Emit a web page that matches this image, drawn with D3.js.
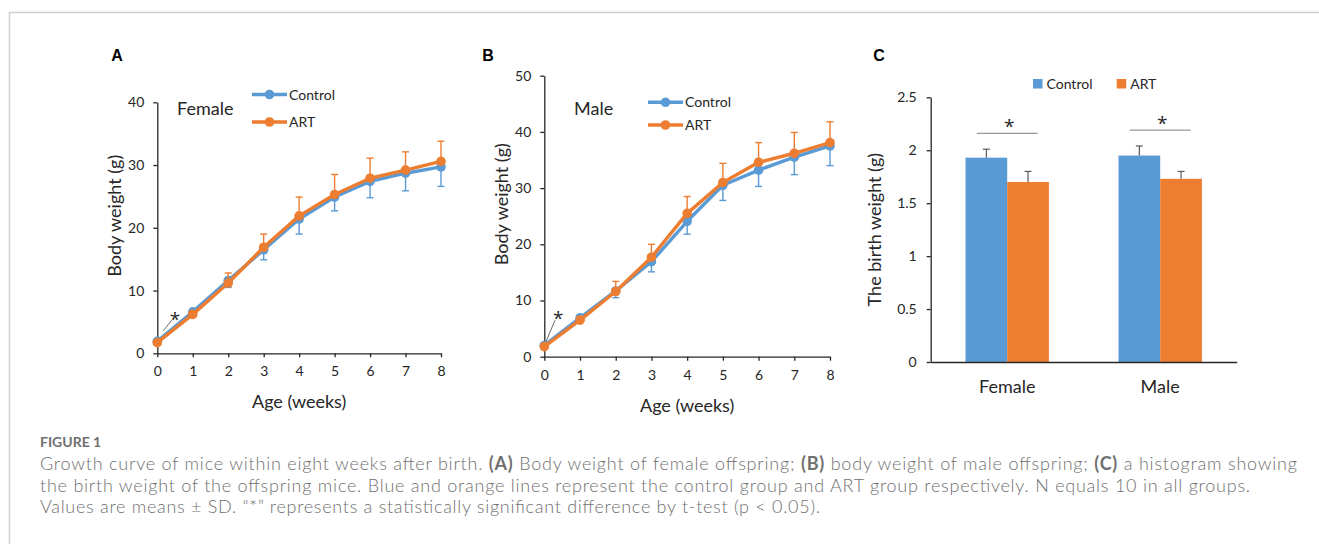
<!DOCTYPE html>
<html>
<head>
<meta charset="utf-8">
<script src="https://cdn.jsdelivr.net/npm/d3@7"></script>
<style>
  body { margin: 0; background: #fff; }
  text { font-family: Lato, "Open Sans", sans-serif; }
</style>
</head>
<body>
<div id="figure"></div>
<script>
// data
var weeks = [0, 1, 2, 3, 4, 5, 6, 7, 8];
var femaleControl   = [1.9, 6.6, 11.6, 16.5, 21.4, 24.9, 27.4, 28.7, 29.7];
var femaleControlSD = [0.2, 0.6, 1.1, 1.6, 2.4, 2.2, 2.6, 2.8, 3.1];
var femaleART       = [1.7, 6.2, 11.2, 16.9, 21.9, 25.3, 27.9, 29.2, 30.6];
var femaleARTSD     = [0.2, 0.6, 1.6, 2.1, 3.0, 3.2, 3.2, 2.9, 3.2];
var maleControl     = [2.0, 6.9, 11.7, 16.9, 24.1, 30.5, 33.2, 35.5, 37.5];
var maleControlSD   = [0.2, 0.5, 1.2, 1.8, 2.3, 2.7, 2.9, 3.1, 3.5];
var maleART         = [1.8, 6.5, 11.6, 17.7, 25.5, 31.0, 34.6, 36.2, 38.1];
var maleARTSD       = [0.2, 0.6, 1.8, 2.3, 3.0, 3.4, 3.5, 3.7, 3.7];

var sexes = ["Female", "Male"];
var groups = ["Control", "ART"];
var birthControl   = [1.93, 1.95];
var birthControlSD = [0.08, 0.09];
var birthART       = [1.70, 1.73];
var birthARTSD     = [0.10, 0.07];

var femaleTicks = [0, 10, 20, 30, 40];
var maleTicks = [0, 10, 20, 30, 40, 50];
var birthTicks = [0, 0.5, 1, 1.5, 2, 2.5];

var captionLines = [
  [["Growth curve of mice within eight weeks after birth. ", false], ["(A)", true], [" Body weight of female offspring; ", false], ["(B)", true], [" body weight of male offspring; ", false], ["(C)", true], [" a histogram showing", false]],
  [["the birth weight of the offspring mice. Blue and orange lines represent the control group and ART group respectively. N equals 10 in all groups.", false]],
  [["Values are means \u00B1 SD. \u201C*\u201D represents a statistically significant difference by t-test (p < 0.05).", false]]
];

// colours
var blue = "#5b9bd5", orange = "#ed7d31", axisColor = "#262626";

var width = 1319, height = 544;

var svg = d3.select("#figure").append("svg")
    .attr("width", width)
    .attr("height", height);

// page frame (top and left rules)
svg.append("line").attr("x1", 9).attr("x2", width).attr("y1", 12.5).attr("y2", 12.5)
    .attr("stroke", "#cfcfcf").attr("stroke-width", 1.5);
svg.append("line").attr("x1", 9.5).attr("x2", 9.5).attr("y1", 12).attr("y2", height)
    .attr("stroke", "#cfcfcf").attr("stroke-width", 1.5);

// panel letters
[["A", 117], ["B", 488], ["C", 879]].forEach(function(p) {
    svg.append("text")
        .attr("x", p[1]).attr("y", 61)
        .attr("text-anchor", "middle")
        .style("font-family", "'Liberation Sans', Arial, sans-serif")
        .style("font-weight", "bold")
        .style("font-size", "16px")
        .text(p[0]);
});

function styleAxis(g) {
    g.select(".domain").attr("stroke", axisColor).attr("stroke-width", 1.3);
    g.selectAll(".tick line").attr("stroke", axisColor).attr("stroke-width", 1.3);
    g.selectAll(".tick text").attr("fill", axisColor).style("font-size", "14px")
        .style("font-family", "Lato, sans-serif");
}

function star(g, x, y) {
    g.append("text")
        .attr("x", x).attr("y", y)
        .attr("text-anchor", "middle")
        .style("font-family", "'Open Sans', sans-serif")
        .style("font-size", "19px").attr("fill", axisColor)
        .text("*");
}

// growth curve panel
function drawGrowth(cfg) {
    var x = d3.scaleLinear().domain([0, 8]).range([cfg.left, cfg.right]);
    var y = d3.scaleLinear().domain([0, cfg.ymax]).range([cfg.bottom, cfg.top]);

    var g = svg.append("g");

    g.append("g")
        .attr("transform", "translate(0," + cfg.bottom + ")")
        .call(d3.axisBottom(x).tickValues(weeks).tickSize(4).tickSizeOuter(0).tickPadding(9))
        .call(styleAxis);
    g.append("g")
        .attr("transform", "translate(" + cfg.left + ",0)")
        .call(d3.axisLeft(y).tickValues(cfg.ticks).tickSize(4).tickSizeOuter(0).tickPadding(9))
        .call(styleAxis);

    // axis titles
    g.append("text")
        .attr("x", (cfg.left + cfg.right) / 2).attr("y", cfg.bottom + 55)
        .attr("text-anchor", "middle")
        .style("font-size", "18px").attr("fill", axisColor)
        .text("Age (weeks)");
    g.append("text")
        .attr("transform", "translate(" + (cfg.left - 36) + "," + ((cfg.top + cfg.bottom) / 2 - 12) + ") rotate(-90)")
        .attr("text-anchor", "middle")
        .style("font-size", "18px").attr("fill", axisColor)
        .text("Body weight (g)");

    // panel title
    g.append("text")
        .attr("x", cfg.titleX).attr("y", cfg.titleY)
        .style("font-size", "18px").attr("fill", axisColor)
        .text(cfg.title);

    var series = [
        { name: "Control", color: blue, vals: cfg.control, sd: cfg.controlSD, dir: -1 },
        { name: "ART", color: orange, vals: cfg.art, sd: cfg.artSD, dir: 1 }
    ];

    var line = d3.line()
        .x(function(d, i) { return x(weeks[i]); })
        .y(function(d) { return y(d); });

    series.forEach(function(s) {
        // error bars: control downwards, ART upwards
        var eb = g.append("g");
        s.vals.forEach(function(v, i) {
            var end = y(v + s.dir * s.sd[i]);
            eb.append("line")
                .attr("x1", x(weeks[i])).attr("x2", x(weeks[i]))
                .attr("y1", y(v)).attr("y2", end)
                .attr("stroke", s.color).attr("stroke-width", 1.4);
            eb.append("line")
                .attr("x1", x(weeks[i]) - 3.5).attr("x2", x(weeks[i]) + 3.5)
                .attr("y1", end).attr("y2", end)
                .attr("stroke", s.color).attr("stroke-width", 1.4);
        });

        g.append("path")
            .datum(s.vals)
            .attr("fill", "none")
            .attr("stroke", s.color)
            .attr("stroke-width", 3.4)
            .attr("stroke-linejoin", "round")
            .attr("d", line);

        g.selectAll(".pt-" + s.name)
            .data(s.vals)
            .enter().append("circle")
            .attr("cx", function(d, i) { return x(weeks[i]); })
            .attr("cy", function(d) { return y(d); })
            .attr("r", 4.8)
            .attr("fill", s.color);
    });

    // legend
    series.forEach(function(s, i) {
        var ly = cfg.legendY + i * cfg.legendGap;
        g.append("line")
            .attr("x1", cfg.legendX).attr("x2", cfg.legendX + 35)
            .attr("y1", ly).attr("y2", ly)
            .attr("stroke", s.color).attr("stroke-width", 3.4);
        g.append("circle")
            .attr("cx", cfg.legendX + 17.5).attr("cy", ly).attr("r", 4.8)
            .attr("fill", s.color);
        g.append("text")
            .attr("x", cfg.legendX + 37).attr("y", ly + 5)
            .style("font-size", "14px").attr("fill", axisColor)
            .text(s.name);
    });

    // significance mark at birth
    g.append("line")
        .attr("x1", x(cfg.star[0])).attr("y1", y(cfg.star[1]))
        .attr("x2", x(cfg.star[2])).attr("y2", y(cfg.star[3]))
        .attr("stroke", "#595959").attr("stroke-width", 0.9);
    star(g, x(cfg.star[4]), y(cfg.star[5]));
}

drawGrowth({
    left: 157.3, right: 441, top: 102.3, bottom: 353.3, ymax: 40, ticks: femaleTicks,
    control: femaleControl, controlSD: femaleControlSD, art: femaleART, artSD: femaleARTSD,
    title: "Female", titleX: 177, titleY: 115,
    legendX: 252, legendY: 94.5, legendGap: 27.5,
    star: [0.17, 3.6, 0.41, 5.3, 0.5, 4.3]
});

drawGrowth({
    left: 544.3, right: 830, top: 75.7, bottom: 356.7, ymax: 50, ticks: maleTicks,
    control: maleControl, controlSD: maleControlSD, art: maleART, artSD: maleARTSD,
    title: "Male", titleX: 574, titleY: 115,
    legendX: 648, legendY: 102.3, legendGap: 22.7,
    star: [0.05, 2.7, 0.3, 6.5, 0.39, 5.7]
});

// birth weight bar panel
(function() {
    var left = 930.7, right = 1236.7, top = 97.3, bottom = 362;
    var x0 = d3.scaleBand().domain(sexes).range([left, right]).paddingInner(0.455).paddingOuter(0.2275);
    var x1 = d3.scaleBand().domain(groups).range([0, x0.bandwidth()]);
    var y = d3.scaleLinear().domain([0, 2.5]).range([bottom, top]);

    var g = svg.append("g");

    g.append("g")
        .attr("transform", "translate(" + left + ",0)")
        .call(d3.axisLeft(y).tickValues(birthTicks).tickSize(4).tickSizeOuter(0).tickPadding(10)
            .tickFormat(function(d) { return String(d); }))
        .call(styleAxis);

    var bars = [
        { name: "Control", color: blue, vals: birthControl, sd: birthControlSD },
        { name: "ART", color: orange, vals: birthART, sd: birthARTSD }
    ];

    bars.forEach(function(s) {
        g.selectAll(".bar-" + s.name)
            .data(s.vals)
            .enter().append("rect")
            .attr("x", function(d, i) { return x0(sexes[i]) + x1(s.name); })
            .attr("y", function(d) { return y(d); })
            .attr("width", x1.bandwidth())
            .attr("height", function(d) { return bottom - y(d); })
            .attr("fill", s.color);

        s.vals.forEach(function(v, i) {
            var cx = x0(sexes[i]) + x1(s.name) + x1.bandwidth() / 2;
            var end = y(v + s.sd[i]);
            g.append("line")
                .attr("x1", cx).attr("x2", cx).attr("y1", y(v)).attr("y2", end)
                .attr("stroke", "#595959").attr("stroke-width", 1.2);
            g.append("line")
                .attr("x1", cx - 3.5).attr("x2", cx + 3.5).attr("y1", end).attr("y2", end)
                .attr("stroke", "#595959").attr("stroke-width", 1.2);
        });
    });

    // x axis line drawn over the bars
    g.append("g")
        .attr("transform", "translate(0," + bottom + ")")
        .call(d3.axisBottom(x0).tickSize(0).tickPadding(18))
        .call(styleAxis)
        .selectAll(".tick text").style("font-size", "18px");

    // significance brackets
    sexes.forEach(function(sx, i) {
        var ly = y(Math.max(birthControl[i] + birthControlSD[i], birthART[i] + birthARTSD[i]) + 0.15);
        var cx = x0(sx) + x0.bandwidth() / 2;
        g.append("line")
            .attr("x1", cx - 30.5).attr("x2", cx + 30.5).attr("y1", ly).attr("y2", ly)
            .attr("stroke", "#7f7f7f").attr("stroke-width", 1);
        star(g, cx + 2, ly - 0);
    });

    g.append("text")
        .attr("transform", "translate(" + 881 + "," + ((top + bottom) / 2) + ") rotate(-90)")
        .attr("text-anchor", "middle")
        .style("font-size", "18px").attr("fill", axisColor)
        .text("The birth weight (g)");

    // legend
    var legendX = [1033, 1116.7];
    bars.forEach(function(s, i) {
        g.append("rect")
            .attr("x", legendX[i]).attr("y", 79)
            .attr("width", 9.5).attr("height", 9.5)
            .attr("fill", s.color);
        g.append("text")
            .attr("x", legendX[i] + 13.5).attr("y", 88.5)
            .style("font-size", "14px").attr("fill", axisColor)
            .text(s.name);
    });
})();

// caption
svg.append("text")
    .attr("x", 40).attr("y", 447)
    .style("font-family", "Lato, sans-serif")
    .style("font-weight", "bold")
    .style("font-size", "14px")
    .attr("fill", "#707070")
    .text("FIGURE 1");

var captionEnds = [1297, 1250, 820];
captionLines.forEach(function(parts, i) {
    var t = svg.append("text")
        .attr("x", 40).attr("y", 470 + i * 21.5)
        .attr("textLength", captionEnds[i] - 40)
        .attr("lengthAdjust", "spacing")
        .style("font-family", "Lato, sans-serif")
        .style("font-weight", "300")
        .style("font-size", "18px")
        .attr("fill", "#707070");
    parts.forEach(function(p) {
        t.append("tspan")
            .style("font-weight", p[1] ? "bold" : "300")
            .text(p[0]);
    });
});
</script>
</body>
</html>
